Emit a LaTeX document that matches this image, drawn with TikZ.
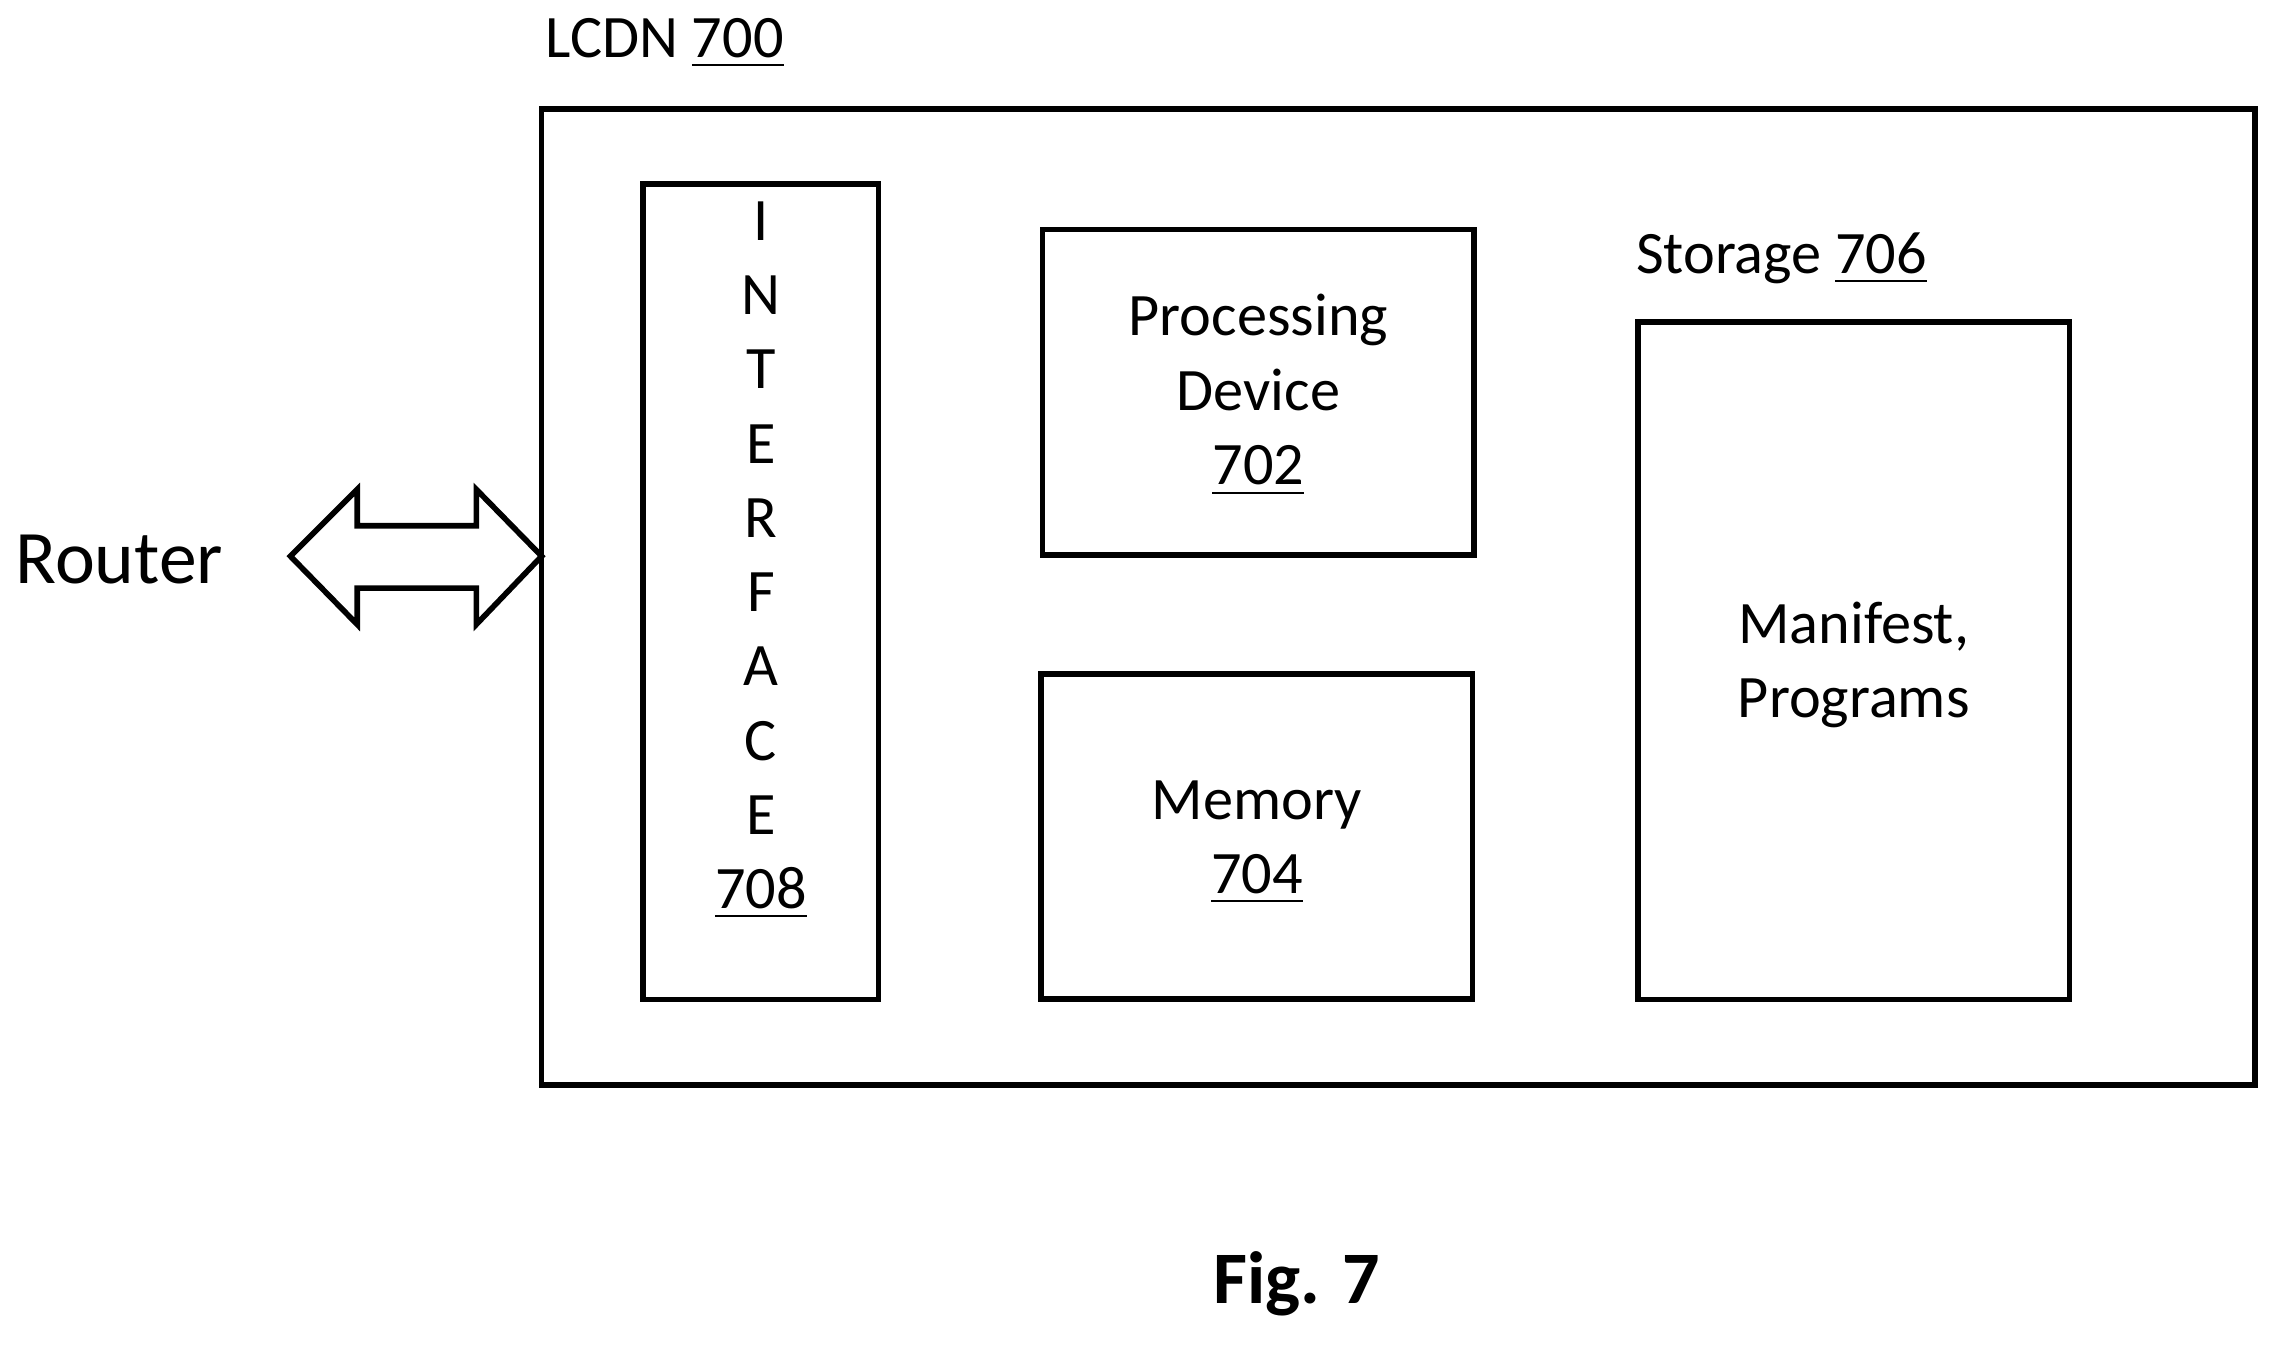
\documentclass[tikz,border=0pt]{standalone}
\usepackage{fontspec}
\setmainfont{Carlito}
\begin{document}
\begin{tikzpicture}[x=0.01cm,y=-0.01cm,
  box/.style={draw,line width=1.1pt},
  txt/.style={font=\fontsize{11.8}{14.6}\selectfont,align=center,inner sep=0}]
\useasboundingbox (0,0) rectangle (1568,926);
\draw[box] (373,75) rectangle (1553,747);
\node[box,inner sep=0,minimum width=162*0.1mm, minimum height=561*0.1mm] (if) at (524,407.5) {};
\node[box,inner sep=0,minimum width=297*0.1mm,minimum height=224*0.1mm] (pd) at (866.5,270) {};
\node[box,inner sep=0,minimum width=297*0.1mm,minimum height=224*0.1mm] (mem) at (865.5,576) {};
\node[box,inner sep=0,minimum width=297*0.1mm,minimum height=466*0.1mm] (st) at (1276.5,455) {};
\node[txt,anchor=north,font=\fontsize{11.8}{14.55}\selectfont] (iftxt) at (524,138) {I\\N\\T\\E\\R\\F\\A\\C\\E\\\underline{708}};
\node[txt] (pdt) at (866.5,272) {Processing\\Device\\\underline{702}};
\node[txt] (memt) at (865.5,580) {Memory\\\underline{704}};
\node[txt] (stt) at (1276.5,458) {Manifest,\\Programs};
\node[txt,anchor=west] (stl) at (1126,178) {Storage \underline{706}};
\node[txt,anchor=west] (lcdn) at (375,30) {LCDN \underline{700}};
\node[txt,anchor=west,font=\fontsize{14.8}{16}\selectfont] (router) at (10,385) {Router};
\node[txt,font=\fontsize{14.5}{16}\selectfont\bfseries] (fig) at (893,884) {Fig. 7};
\coordinate (a) at (200,383);
\coordinate (b) at (373,383);
\draw[line width=1.1pt,line join=miter] (a) -- (246,337) -- (246,362) -- (328,362) -- (328,337) -- (b) -- (328,430) -- (328,405) -- (246,405) -- (246,430) -- cycle;
\end{tikzpicture}
\end{document}
